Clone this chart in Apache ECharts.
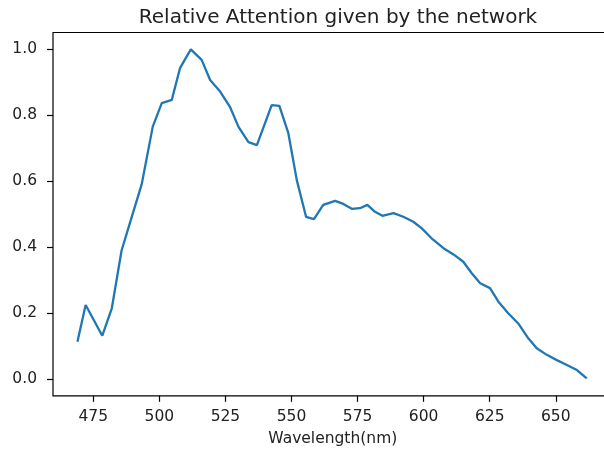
<!DOCTYPE html>
<html>
<head>
<meta charset="utf-8">
<script src="https://cdn.jsdelivr.net/npm/echarts@6/dist/echarts.min.js"></script>
<style>
  html, body { margin: 0; padding: 0; background: #fff; }
  #chart { width: 604px; height: 450px; }
</style>
</head>
<body>
<div id="chart"></div>
<script>
// wavelength samples (nm) and relative attention
const wavelengths = [
  469.0, 472.1, 478.4, 482.0, 485.7, 489.5, 493.3, 497.5, 500.9, 504.7,
  507.8, 511.9, 516.0, 519.2, 523.0, 526.7, 529.9, 533.7, 536.9, 542.5,
  545.4, 548.8, 552.0, 555.5, 558.5, 562.0, 566.5, 569.6, 572.8, 575.9,
  578.7, 581.6, 584.4, 588.6, 592.3, 596.1, 599.3, 603.0, 607.5, 611.3,
  615.0, 618.2, 621.4, 625.1, 628.3, 632.0, 635.8, 639.6, 642.8, 646.6,
  650.4, 654.2, 658.0, 661.7
]
const attention = [
  0.114, 0.225, 0.132, 0.215, 0.39, 0.49, 0.59, 0.765, 0.836, 0.846,
  0.942, 0.999, 0.967, 0.906, 0.871, 0.825, 0.765, 0.718, 0.709, 0.830,
  0.828, 0.745, 0.603, 0.492, 0.485, 0.528, 0.540, 0.531, 0.516, 0.518,
  0.528, 0.507, 0.495, 0.503, 0.492, 0.477, 0.457, 0.427, 0.397, 0.378,
  0.356, 0.321, 0.291, 0.276, 0.235, 0.200, 0.169, 0.124, 0.094, 0.074,
  0.058, 0.043, 0.028, 0.003
]
const xTicks = [475, 500, 525, 550, 575, 600, 625, 650]
const yTicks = [0, 0.2, 0.4, 0.6, 0.8, 1.0]

const FONT = 'DejaVu Sans'
const INK = '#222'

const chart = echarts.init(document.getElementById('chart'))

chart.setOption({
  animation: false,
  title: {
    text: 'Relative Attention given by the network',
    left: 333,
    top: 3,
    textAlign: 'center',
    textStyle: { fontFamily: FONT, fontSize: 20, fontWeight: 'normal', color: INK }
  },
  // axes frame; the right side runs past the picture, like the cropped original
  grid: {
    left: 53,
    top: 32.5,
    width: 559.6,
    height: 363.3,
    outerBoundsMode: 'none',
    show: true,
    borderColor: '#000',
    borderWidth: 1.2,
    containLabel: false
  },
  xAxis: {
    type: 'value',
    min: 459.75,
    max: 671.5,
    name: 'Wavelength(nm)',
    nameLocation: 'middle',
    nameGap: 35,
    nameTextStyle: { fontFamily: FONT, fontSize: 15.5, color: INK },
    splitLine: { show: false },
    axisLine: { show: false, onZero: false },
    axisTick: {
      show: true, inside: false, length: 6,
      customValues: xTicks,
      lineStyle: { color: '#000', width: 1.2 }
    },
    axisLabel: {
      customValues: xTicks,
      margin: 13,
      fontFamily: FONT, fontSize: 15.5, color: INK
    }
  },
  yAxis: {
    type: 'value',
    min: -0.05,
    max: 1.05,
    splitLine: { show: false },
    axisLine: { show: false, onZero: false },
    axisTick: {
      show: true, inside: false, length: 6,
      customValues: yTicks,
      lineStyle: { color: '#000', width: 1.2 }
    },
    axisLabel: {
      customValues: yTicks,
      margin: 16,
      formatter: v => v.toFixed(1),
      fontFamily: FONT, fontSize: 15.5, color: INK
    }
  },
  series: [{
    type: 'line',
    data: wavelengths.map((w, i) => [w, attention[i]]),
    showSymbol: false,
    lineStyle: { color: '#1f77b4', width: 2.3 },
    itemStyle: { color: '#1f77b4' }
  }]
})
</script>
</body>
</html>
